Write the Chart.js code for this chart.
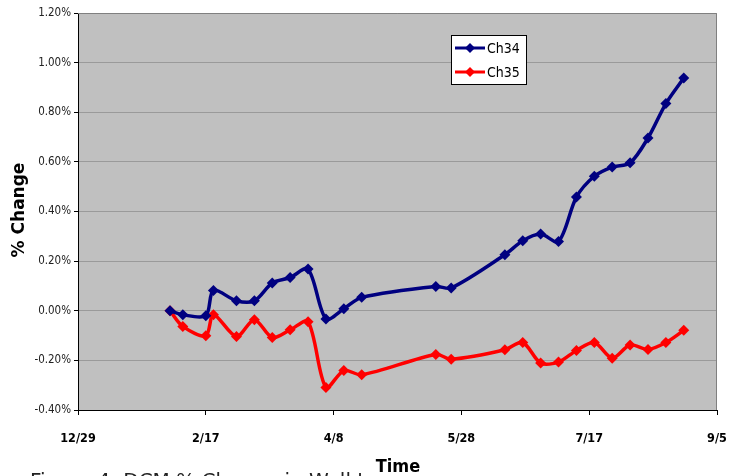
<!DOCTYPE html>
<html>
<head>
<meta charset="utf-8">
<script src="https://cdn.jsdelivr.net/npm/chart.js@4/dist/chart.umd.min.js"></script>
<style>
  html, body { margin: 0; padding: 0; background: #ffffff; }
  #wrap { width: 746px; height: 476px; position: relative; overflow: hidden; }
</style>
</head>
<body>
<div id="wrap"><canvas id="c" width="746" height="476"></canvas></div>
<script>
// Measurement dates (weekly readings)
const dates = [
  '2006-02-03', '2006-02-08', '2006-02-17', '2006-02-20', '2006-03-01',
  '2006-03-08', '2006-03-15', '2006-03-22', '2006-03-29', '2006-04-05',
  '2006-04-12', '2006-04-19', '2006-05-18', '2006-05-24', '2006-06-14',
  '2006-06-21', '2006-06-28', '2006-07-05', '2006-07-12', '2006-07-19',
  '2006-07-26', '2006-08-02', '2006-08-09', '2006-08-16', '2006-08-23'
];

// % change per channel
const ch34 = [
  0.000, -0.016, -0.020, 0.082, 0.040, 0.040, 0.112, 0.134, 0.168, -0.033,
  0.008, 0.054, 0.098, 0.092, 0.226, 0.282, 0.309, 0.279, 0.458, 0.542,
  0.579, 0.596, 0.696, 0.835, 0.938
];
const ch35 = [
  0.000, -0.063, -0.101, -0.016, -0.104, -0.036, -0.108, -0.077, -0.044, -0.309,
  -0.241, -0.258, -0.176, -0.195, -0.157, -0.128, -0.211, -0.207, -0.160, -0.128,
  -0.191, -0.138, -0.156, -0.128, -0.079
];

// Time axis labels, one every 50 days from the axis origin
const timeTicks = ['12/29', '2/17', '4/8', '5/28', '7/17', '9/5'];
const axisOrigin = '2005-12-29';
const tickStepDays = 50;

const seriesNames = ['Ch34', 'Ch35'];
const seriesColors = ['#000080', '#ff0000'];

const DAY = 86400000;
const originMs = Date.parse(axisOrigin + 'T00:00:00Z');
const dayOffsets = dates.map(d => Math.round((Date.parse(d + 'T00:00:00Z') - originMs) / DAY));

const toPoints = vals => vals.map((v, i) => ({ x: dayOffsets[i], y: v }));

const tickFont = '"DejaVu Sans Condensed", "DejaVu Sans", sans-serif';

// Plot background, top/right frame, axis titles, legend box and caption
const decor = {
  id: 'decor',
  beforeDraw(chart) {
    const { ctx, chartArea: a } = chart;
    ctx.save();
    ctx.fillStyle = '#c0c0c0';
    ctx.fillRect(a.left, a.top, a.right - a.left, a.bottom - a.top);
    ctx.restore();
  },
  beforeDatasetsDraw(chart) {
    const { ctx, chartArea: a } = chart;
    ctx.save();
    ctx.strokeStyle = '#808080';
    ctx.lineWidth = 1;
    ctx.beginPath();
    ctx.moveTo(a.left, a.top + 0.5);
    ctx.lineTo(a.right - 0.5, a.top + 0.5);
    ctx.lineTo(a.right - 0.5, a.bottom);
    ctx.stroke();
    ctx.restore();
  },
  afterDraw(chart) {
    const { ctx } = chart;
    ctx.save();

    // y-axis title
    ctx.fillStyle = '#000';
    ctx.font = 'bold 17px "DejaVu Sans", sans-serif';
    ctx.textAlign = 'center';
    ctx.textBaseline = 'middle';
    ctx.translate(20, 210);
    ctx.rotate(-Math.PI / 2);
    ctx.fillText('% Change', 0, 0);
    ctx.setTransform(1, 0, 0, 1, 0, 0);

    // caption line running off the bottom edge
    ctx.fillStyle = '#222';
    ctx.font = '20px "DejaVu Sans", sans-serif';
    ctx.textAlign = 'left';
    ctx.textBaseline = 'alphabetic';
    ctx.fillText('Figure 4: DCM % Change in Wall t', 30, 487);

    // x-axis title on a white patch
    ctx.font = 'bold 18px "DejaVu Sans Condensed", sans-serif';
    const tw = ctx.measureText('Time').width;
    ctx.fillStyle = '#fff';
    ctx.fillRect(398 - tw / 2 - 6, 452, tw + 12, 24);
    ctx.fillStyle = '#000';
    ctx.textAlign = 'center';
    ctx.fillText('Time', 398, 472);

    // legend
    const lx = 451, ly = 35, lw = 75, lh = 49;
    ctx.fillStyle = '#fff';
    ctx.fillRect(lx, ly, lw, lh);
    ctx.strokeStyle = '#000';
    ctx.lineWidth = 1;
    ctx.strokeRect(lx + 0.5, ly + 0.5, lw, lh);
    chart.data.datasets.forEach((ds, i) => {
      const cy = ly + 13 + i * 24;
      ctx.strokeStyle = ds.borderColor;
      ctx.lineWidth = 3;
      ctx.beginPath();
      ctx.moveTo(lx + 4, cy);
      ctx.lineTo(lx + 34, cy);
      ctx.stroke();
      ctx.fillStyle = ds.borderColor;
      ctx.beginPath();
      ctx.moveTo(lx + 19, cy - 5);
      ctx.lineTo(lx + 24, cy);
      ctx.lineTo(lx + 19, cy + 5);
      ctx.lineTo(lx + 14, cy);
      ctx.closePath();
      ctx.fill();
      ctx.fillStyle = '#000';
      ctx.font = '14px ' + tickFont;
      ctx.textAlign = 'left';
      ctx.textBaseline = 'middle';
      ctx.fillText(ds.label, lx + 36, cy + 1);
    });

    ctx.restore();
  }
};

new Chart(document.getElementById('c'), {
  type: 'line',
  data: {
    datasets: [
      {
        label: seriesNames[0],
        data: toPoints(ch34),
        borderColor: seriesColors[0],
        backgroundColor: seriesColors[0],
        borderWidth: 3.5,
        pointStyle: 'rectRot',
        pointRadius: 5.5,
        pointBorderWidth: 0,
        tension: 0.3,
        fill: false
      },
      {
        label: seriesNames[1],
        data: toPoints(ch35),
        borderColor: seriesColors[1],
        backgroundColor: seriesColors[1],
        borderWidth: 3.5,
        pointStyle: 'rectRot',
        pointRadius: 5.5,
        pointBorderWidth: 0,
        tension: 0.3,
        fill: false
      }
    ]
  },
  options: {
    responsive: false,
    animation: false,
    devicePixelRatio: 1,
    layout: { padding: { top: 13, right: 29, left: 0, bottom: 0 } },
    plugins: {
      legend: { display: false },
      tooltip: { enabled: false }
    },
    scales: {
      x: {
        type: 'linear',
        min: 0,
        max: tickStepDays * (timeTicks.length - 1),
        afterFit(scale) { scale.height = 66; },
        afterBuildTicks(scale) {
          scale.ticks = timeTicks.map((_, i) => ({ value: i * tickStepDays }));
        },
        ticks: {
          autoSkip: false,
          maxRotation: 0,
          padding: 16,
          color: '#000',
          font: { family: tickFont, size: 12.5, weight: 'bold' },
          callback: (v) => timeTicks[Math.round(v / tickStepDays)]
        },
        grid: {
          drawOnChartArea: false,
          tickLength: 5,
          tickColor: '#000'
        },
        border: { color: '#000', width: 1 }
      },
      y: {
        min: -0.4,
        max: 1.2,
        afterFit(scale) { scale.width = 78; },
        ticks: {
          stepSize: 0.2,
          padding: 3,
          color: '#222',
          font: { family: tickFont, size: 11.5 },
          callback: (v) => v.toFixed(2) + '%'
        },
        grid: {
          color: '#9a9a9a',
          tickColor: '#000',
          tickLength: 4,
          lineWidth: 1
        },
        border: { color: '#000', width: 1 }
      }
    }
  },
  plugins: [decor]
});
</script>
</body>
</html>
